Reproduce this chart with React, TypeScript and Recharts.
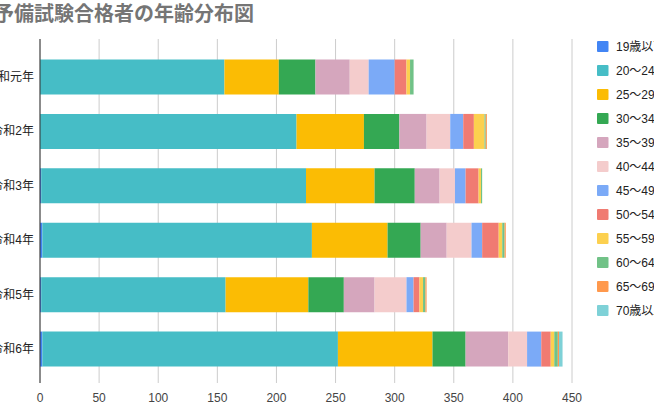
import React from "react";
import { BarChart, Bar, XAxis, YAxis, CartesianGrid } from "recharts";

const years = ["令和元年", "令和2年", "令和3年", "令和4年", "令和5年", "令和6年"];

const seriesNames = [
  "19歳以下",
  "20～24歳",
  "25～29歳",
  "30～34歳",
  "35～39歳",
  "40～44歳",
  "45～49歳",
  "50～54歳",
  "55～59歳",
  "60～64歳",
  "65～69歳",
  "70歳以上",
];

const seriesColors = [
  "#4285F4",
  "#46BDC6",
  "#FBBC04",
  "#34A853",
  "#D5A6BD",
  "#F4CCCC",
  "#7BAAF7",
  "#F07B72",
  "#FCD04F",
  "#71C287",
  "#FF994D",
  "#7ED1D7",
];

const age19under = [0, 0, 1, 2, 1, 2];
const age20to24 = [156, 217, 224, 228, 156, 250];
const age25to29 = [46, 57, 58, 64, 70, 80];
const age30to34 = [31, 30, 34, 28, 30, 28];
const age35to39 = [29, 23, 21, 22, 26, 36];
const age40to44 = [16, 20, 13, 21, 27, 16];
const age45to49 = [22, 11, 9, 9, 6, 12];
const age50to54 = [10, 9, 11, 14, 5, 8];
const age55to59 = [3, 9, 2, 3, 3, 3];
const age60to64 = [3, 1, 1, 2, 2, 3];
const age65to69 = [0, 1, 0, 1, 1, 1];
const age70over = [0, 0, 0, 0, 0, 3];

const seriesValues = [
  age19under,
  age20to24,
  age25to29,
  age30to34,
  age35to39,
  age40to44,
  age45to49,
  age50to54,
  age55to59,
  age60to64,
  age65to69,
  age70over,
];

const xTicks = [0, 50, 100, 150, 200, 250, 300, 350, 400, 450];

const chartTitle = "予備試験合格者の年齢分布図";

const data = years.map((year, i) => {
  const row: Record<string, string | number> = { year };
  seriesNames.forEach((name, j) => {
    row["s" + j] = seriesValues[j][i];
  });
  return row;
});

const FONT = "Arial, 'Liberation Sans', 'Noto Sans CJK JP', sans-serif";

export default function App() {
  return (
    <div style={{ position: "absolute", left: 0, top: 0, width: 654, height: 404, background: "#fff", overflow: "hidden" }}>
      <BarChart
        width={654}
        height={404}
        data={data}
        layout="vertical"
        margin={{ top: 39, right: 82, bottom: 0, left: 0 }}
        barSize={35}
        style={{ fontFamily: FONT }}
      >
        <CartesianGrid horizontal={false} stroke="#cccccc" />
        <XAxis
          type="number"
          domain={[0, 450]}
          ticks={xTicks}
          interval={0}
          axisLine={false}
          tickLine={false}
          tickSize={6}
          tickMargin={4}
          height={21}
          tick={{ fill: "#444444", fontSize: 12, fontFamily: FONT }}
        />
        <YAxis
          type="category"
          dataKey="year"
          width={40}
          axisLine={{ stroke: "#333333" }}
          tickLine={false}
          tickSize={0}
          tickMargin={6}
          padding={{ top: 10.5, bottom: 7 }}
          tick={{ fill: "#222222", fontSize: 12, fontFamily: FONT }}
        />
        {seriesNames.map((name, j) => (
          <Bar
            key={name}
            dataKey={"s" + j}
            name={name}
            stackId="a"
            fill={seriesColors[j]}
            isAnimationActive={false}
          />
        ))}
      </BarChart>
      <svg
        width={654}
        height={404}
        style={{ position: "absolute", left: 0, top: 0, pointerEvents: "none" }}
      >
        <text
          x={-6}
          y={21}
          fill="#757575"
          fontSize={20}
          fontWeight="bold"
          fontFamily={FONT}
        >
          {chartTitle}
        </text>
        {seriesNames.map((name, j) => (
          <g key={name}>
            <rect x={597} y={41 + j * 24} width={11.5} height={11} rx={1} fill={seriesColors[j]} />
            <text x={616} y={50.8 + j * 24} fill="#222222" fontSize={12} fontFamily={FONT}>
              {name}
            </text>
          </g>
        ))}
      </svg>
    </div>
  );
}
